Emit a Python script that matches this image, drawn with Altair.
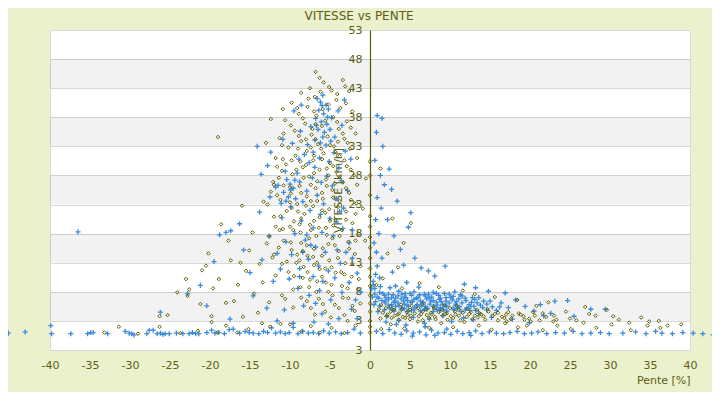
import altair as alt
import pandas as pd

# ---------------- data ----------------
# blue series (+ markers): (pente %, vitesse km/h)
blue_bottom = [(-45.2,0.9),(-43.1,1.1),(-39.9,2.2),(-39.8,0.8),(-37.4,0.8),(-35.3,0.8),(-34.9,1.0),(-34.6,1.0),
    (-32.8,0.8),(-30.6,1.2),(-30.1,0.9),(-29.8,0.8),(-29.5,0.6),(-27.9,0.8),(-27.6,1.4),(-27.1,1.4),(-26.6,0.8),
    (-26.2,0.9),(-25.9,0.7),(-25.6,0.8),(-25.1,0.8),(-24.2,0.9),(-23.4,0.8),(-22.6,0.8),(-22.2,1.0),(-21.8,0.8),
    (-21.4,0.8),(-20.4,1.0),(-19.8,1.4),(-19.4,0.9),(-18.9,1.0),(-18.2,0.8),(-17.6,1.5),(-17.1,1.6),(-16.3,0.9),
    (-15.6,1.2),(-15.1,1.0),(-14.6,0.9),(-13.9,0.8),(-13.3,1.2),(-12.8,1.0),(-12.3,1.8),(-11.8,0.9),(-11.2,1.1),
    (-10.6,0.8),(-10.1,1.0),(-9.6,1.9),(-9.0,0.8),(-8.4,1.2),(-7.7,0.9),(-7.1,1.0),(-6.4,0.8),(-5.8,1.3),(-5.1,0.9),
    (-4.3,1.1),(-3.6,0.8),(-2.8,1.0),(-2.0,1.6),(-1.2,0.9),
    (0.8,1.2),(1.6,0.8),(2.4,1.5),(3.1,0.9),(3.9,0.7),(4.6,1.3),(5.4,0.9),(6.2,1.1),(7.0,0.6),(7.7,1.4),(8.5,0.9),
    (9.3,1.0),(10.1,0.7),(10.9,1.2),(11.6,0.8),(12.4,1.0),(13.2,1.3),(14.0,0.8),(14.9,1.1),(15.8,0.9),(16.7,0.8),
    (17.5,1.0),(18.4,1.2),(19.3,0.8),(20.2,0.9),(21.0,1.1),(22.1,0.8),(23.2,1.0),(24.3,0.9),(25.4,1.2),(26.5,0.8),
    (27.6,0.9),(28.8,1.0),(29.9,0.8),(31.6,0.9),(33.2,1.1),(34.5,0.8),(35.7,1.2),(36.5,0.9),(37.8,0.8),(39.1,1.0),
    (40.4,0.9),(41.6,0.8),(42.9,0.6),(5.3,0.4),(8.1,0.5),(12.6,0.5),(9.6,1.6),(3.3,2.4),(6.9,2.0)]
blue_left = [(-26.2,4.5),(-22.8,7.7),(-21.2,9.1),(-19.5,13.2),(-18.8,17.8),(-18.0,18.2),(-17.4,18.5),(-16.3,19.7),
    (-15.8,15.2),(-15.0,11.3),(-14.6,7.3),(-13.5,13.5),(-12.9,5.2),(-12.1,9.8),(-11.6,14.6),(-13.8,21.7),
    (-12.6,17.6),(-17.5,3.3),(-20.4,5.6),(-36.5,18.3),(-14.1,33.0),(-13.6,28.2),(-12.5,24.3),(-11.5,26.3),(-11.0,20.7)]
blue_peak = [(-6.6,41.2),(-6.2,40.6),(-5.9,41.8),(-5.5,40.1),(-6.4,39.2),(-5.8,38.6),(-5.2,39.4),(-6.8,37.8),
    (-6.1,37.2),(-5.4,36.8),(-4.8,37.9),(-6.5,35.9),(-5.7,35.4),(-5.0,35.9),(-4.4,34.6),(-6.9,34.1),(-6.2,33.6),
    (-5.5,33.2),(-7.4,36.4),(-7.8,33.3),(-4.0,39.1),(-3.5,36.6),(-8.6,40.1),(-9.5,39.1),(-3.2,41.0),
    (-10.4,27.3),(-10.0,26.5),(-9.6,25.8),(-10.8,25.1),(-10.2,24.3),(-9.3,24.0),(-8.8,26.9),(-11.1,23.2),
    (-9.9,22.6),(-8.4,23.5),(-10.6,28.7),(-9.1,28.4),(-11.8,26.0),
    (-8.2,31.6),(-7.6,30.2),(-6.9,29.4),(-6.3,31.0),(-5.1,30.4),(-4.5,31.9),(-3.9,29.3),(-3.1,32.2),(-2.4,30.8),
    (-8.9,30.8),(-7.2,27.6),(-6.1,26.8),(-5.4,27.9),(-4.7,26.2),(-3.6,27.1),(-2.8,25.4),(-7.9,25.3),(-6.6,24.6),
    (-5.8,23.1),(-4.2,24.0),(-3.3,22.4),(-7.5,22.0),(-6.2,21.3),(-5.0,20.6),(-3.8,21.8),(-8.6,20.2),(-7.1,19.0),
    (-6.0,18.2),(-4.6,17.6),(-3.4,18.9),(-2.6,16.4),(-9.4,18.0),(-8.1,16.9),(-6.8,15.7),(-5.6,14.8),(-4.1,15.2),
    (-7.7,13.6),(-6.4,12.4),(-5.2,11.6),(-3.7,12.9),(-2.2,13.8),(-8.8,12.0),(-7.1,10.6),(-5.9,9.8),(-4.4,10.4),
    (-9.8,14.4),(-10.5,16.6),(-11.2,11.9),(-10.1,10.2),(-9.0,8.6),(-7.6,7.4),(-6.3,8.2),(-4.9,6.6),(-3.5,7.9),
    (-2.6,9.6),(-1.6,11.2),(-1.2,8.0),(-8.3,5.6),(-6.0,4.2),(-3.9,3.4),(-2.3,5.0),(-10.7,4.9),(-11.6,3.0),
    (-9.6,2.6),(-7.0,2.8),(-5.2,2.5),(-1.6,3.4),(-12.4,32.0),(-10.9,34.2),(-9.7,33.5),(-8.7,35.6),(-12.8,29.7),
    (-6.0,40.0),(-5.3,38.0),(-6.7,36.6),(-5.9,34.6),(-4.9,33.9),(-7.1,32.0),(-9.9,25.5),(-10.5,23.6),(-9.4,27.2),
    (-7.9,17.8),(-8.4,14.8),(-7.4,16.0),(-4.2,20.0),(-2.2,18.6),(-3.0,14.8),(-1.8,6.6),(-6.8,6.0),(-8.8,10.6)]
blue_axis = [(0.4,9.8),(0.7,11.0),(0.9,12.4),(1.2,10.4),(0.6,8.6),(1.5,13.8),(0.8,14.8),(0.5,16.4),(1.1,18.0),
    (0.7,20.4),(1.4,22.4),(0.9,24.2),(1.8,26.4),(1.3,28.0),(0.6,30.6),(1.6,33.0),(0.8,35.4),(1.5,37.8),(0.9,38.3),
    (2.4,29.1),(2.7,25.6),(3.4,23.6),(2.2,20.4),(4.8,19.1),(5.1,21.6),(3.0,17.6),(3.8,15.3),(5.6,13.8),(4.2,12.6),
    (6.4,12.1),(2.8,11.4),(7.3,11.6),(8.1,10.7),(9.4,12.4)]
blue_right = [(1.2,7.9),(2.3,7.6),(3.6,8.1),(4.4,7.7),(5.5,8.0),(6.8,7.6),(7.9,7.9),(9.3,7.7),(10.6,8.0),
    (0.9,7.1),(1.8,7.4),(2.7,7.0),(3.5,7.3),(4.3,7.1),(5.2,7.4),(6.0,7.0),(6.9,7.3),(7.7,7.1),(8.6,7.4),(9.5,7.0),
    (10.4,7.2),(11.5,7.3),(12.8,7.0),
    (1.5,6.5),(2.3,6.7),(3.1,6.4),(3.9,6.8),(4.7,6.5),(5.5,6.7),(6.3,6.4),(7.1,6.8),(7.9,6.5),(8.7,6.7),(9.5,6.4),
    (10.3,6.6),(11.1,6.8),(12.0,6.5),(13.1,6.7),(14.2,6.4),
    (1.9,6.1),(2.7,5.8),(3.5,6.1),(4.3,5.9),(5.1,6.2),(5.9,5.8),(6.7,6.1),(7.5,5.9),(8.3,6.2),(9.1,5.8),(9.9,6.1),
    (10.7,5.9),(11.5,6.1),(12.4,5.8),(13.4,6.1),(14.6,5.9),
    (2.4,5.3),(3.2,5.5),(4.0,5.2),(4.8,5.5),(5.6,5.3),(6.4,5.6),(7.2,5.2),(8.0,5.5),(8.8,5.3),(9.6,5.5),(10.4,5.2),
    (11.2,5.4),(12.1,5.2),(13.0,5.5),(14.1,5.3),(15.3,5.4),
    (3.0,4.7),(3.9,4.9),(4.7,4.6),(5.5,4.9),(6.3,4.7),(7.1,5.0),(7.9,4.6),(8.7,4.8),(9.6,4.7),(10.5,4.9),(11.4,4.6),
    (12.5,4.8),
    (0.5,5.8),(0.3,7.1),(1.0,4.6),(2.1,3.8),(3.6,3.1),(5.4,3.6),(7.4,3.3),(9.1,3.9),(11.7,3.5),(13.6,4.3),
    (15.8,4.8),(16.4,6.1),(17.3,5.3),(18.2,6.6),(19.4,5.5),(20.5,4.7),(21.3,5.8),(22.6,4.3),(23.1,6.4),(24.7,6.5),
    (25.5,3.8),(27.6,5.0),(29.4,5.0),(16.9,7.8),(14.8,8.1),(13.2,8.7),(11.8,9.3),(3.2,9.0),(4.6,9.6),(6.1,8.8),
    (2.0,2.8),(4.5,2.3),(6.8,2.6),(10.2,2.9),(12.9,3.2),(15.2,3.6),(17.8,3.3),(19.9,2.7),(21.7,3.9),
    (0.6,7.6),(1.6,7.7),(2.9,7.5),(4.0,7.6),(5.0,7.7),(6.2,7.5),(7.3,7.6),(8.3,7.7),(9.9,7.6),(11.3,7.5),
    (1.1,6.9),(2.0,7.0),(3.2,6.9),(4.5,7.0),(5.8,6.9),(7.4,7.0),(8.8,6.9),(10.1,7.0),(11.9,6.9),(13.6,7.0),
    (0.7,6.3),(1.9,6.4),(3.0,6.2),(4.2,6.4),(5.3,6.3),(6.6,6.2),(7.6,6.4),(8.9,6.3),(10.8,6.3),(12.7,6.2),(15.0,6.4),
    (1.2,5.6),(2.3,5.7),(3.6,5.6),(4.6,5.7),(5.9,5.6),(6.9,5.5),(8.4,5.7),(9.4,5.6),(10.9,5.6),(12.6,5.5),
    (13.8,5.7),(16.2,5.4),
    (1.8,4.9),(2.8,5.0),(4.3,5.1),(5.2,4.8),(6.8,5.0),(8.3,5.0),(9.2,4.9),(10.9,5.1),(11.9,4.9),(13.2,4.8),
    (14.6,4.9),(0.2,8.5),(0.4,9.2),(1.3,8.9),(2.5,8.7)]

# olive series (diamond markers)
olive_bottom = [(-33.2,1.0),(-31.4,2.0),(-29.0,0.8),(-26.3,2.0),(-23.7,0.9),(-21.5,1.3),(-19.8,2.8),(-19.1,1.0),
    (-18.0,2.2),(-16.6,1.0),(-15.2,1.6),(-13.5,2.6),(-12.5,2.0),(-11.2,2.5),(-10.0,2.4),(-8.6,1.2),(-7.4,2.1),
    (-6.3,1.0),(-4.8,1.8),(-3.2,0.9),(-1.8,2.2),(1.4,1.6),(2.6,2.4),(4.3,1.7),(6.0,2.9),(7.4,1.8),(8.9,2.6),
    (10.4,1.9),(11.8,2.8),(13.6,2.2),(15.2,1.5),(16.9,2.6),(18.5,1.9),(20.1,2.9),(21.6,1.4),(23.4,2.2),(25.1,1.6),
    (26.7,2.7),(28.3,1.8),(30.2,2.4),(32.6,1.4),(34.7,2.2),(36.3,1.8),(38.9,2.4)]
olive_left = [(-26.3,3.8),(-25.3,4.0),(-22.8,7.3),(-22.6,8.4),(-21.2,5.9),(-21.0,11.7),(-20.5,12.5),(-19.6,8.6),
    (-19.8,3.8),(-18.9,10.2),(-18.0,6.1),(-17.4,13.4),(-17.0,6.4),(-16.5,9.2),(-15.9,3.7),(-15.5,11.6),(-15.1,15.1),
    (-14.5,7.7),(-14.0,4.4),(-13.8,12.8),(-13.4,9.6),(-12.9,16.3),(-12.6,6.2),(-12.2,13.9),(-11.8,10.8),
    (-11.3,18.6),(-11.0,7.4),(-19.0,34.6),(-18.6,19.6),(-16.0,22.8),(-14.7,18.2),(-13.3,23.5),(-12.1,26.9),
    (-11.6,29.5),(-13.0,33.6),(-12.4,37.7),(-10.9,39.4),(-24.1,7.9),(-23.0,10.2),(-20.2,14.6),(-17.7,16.8),(-16.2,13.0)]
olive_peak = [(-6.8,45.8),(-6.3,44.8),(-5.8,44.0),(-3.4,44.4),(-3.1,43.3),(-7.5,43.0),(-8.6,42.2),(-4.8,42.6),
    (-2.6,42.5),(-6.9,41.5),(-4.2,41.0),(-9.8,40.5),(-7.8,39.8),(-5.2,40.2),(-3.7,39.6),(-2.2,39.0),(-8.9,38.6),
    (-6.7,38.3),(-4.6,38.0),(-2.9,37.3),(-10.6,37.5),(-8.1,36.9),(-6.0,36.5),(-3.9,36.0),(-1.8,35.2),(-9.4,35.7),
    (-7.3,35.0),(-5.3,34.7),(-3.2,34.3),(-11.3,34.4),(-8.6,33.9),(-6.5,33.4),(-4.5,33.0),(-2.5,32.6),(-10.2,32.8),
    (-7.9,32.2),(-5.8,31.8),(-3.8,31.3),(-1.6,31.0),(-9.3,31.4),(-11.8,31.0),(-7.1,30.6),(-5.0,30.1),(-2.9,29.6),
    (-10.5,29.9),(-8.4,29.4),(-6.3,29.0),(-4.2,28.6),(-2.0,28.0),(-9.7,28.2),(-11.4,27.6),(-7.6,27.8),(-5.5,27.3),
    (-3.4,26.8),(-10.8,26.3),(-8.8,26.2),(-6.8,25.8),(-4.7,25.5),(-2.6,25.0),(-12.4,25.2),(-9.9,24.9),(-7.9,24.4),
    (-5.9,24.0),(-3.8,23.6),(-1.7,23.2),(-11.2,23.8),(-9.1,23.1),(-7.1,22.7),(-5.1,22.2),(-3.0,21.8),(-10.4,21.9),
    (-8.2,21.4),(-6.3,20.8),(-4.3,20.4),(-2.2,19.8),(-12.0,20.9),(-9.5,20.1),(-7.5,19.5),(-5.5,19.0),(-3.5,18.6),
    (-1.4,18.0),(-10.9,18.8),(-8.7,18.2),(-6.7,17.6),(-4.7,17.2),(-2.7,16.6),(-12.6,17.5),(-9.9,16.5),(-7.9,16.0),
    (-5.9,15.5),(-3.9,15.0),(-1.9,14.5),(-11.4,15.6),(-9.1,14.4),(-7.1,14.0),(-5.1,13.4),(-3.1,12.9),(-1.2,12.4),
    (-10.4,13.2),(-8.3,12.3),(-6.3,11.9),(-4.3,11.3),(-2.3,10.6),(-9.5,10.7),(-7.5,10.1),(-5.5,9.6),(-3.5,9.0),
    (-1.5,8.4),(-8.7,8.8),(-6.7,8.0),(-4.7,7.4),(-2.7,6.9),(-7.9,6.4),(-5.9,5.9),(-3.9,5.2),(-1.9,4.7),(-9.6,5.3),
    (-6.9,4.1),(-4.9,3.6),(-2.8,3.0),
    (-7.2,36.0),(-5.6,37.4),(-6.1,32.6),(-8.0,34.2),(-4.0,33.8),(-7.0,31.4),(-5.4,29.2),(-6.6,27.0),(-8.3,27.6),
    (-4.4,26.6),(-6.0,25.0),(-7.4,23.6),(-5.6,21.6),(-8.8,19.6),(-6.4,19.0),(-4.6,19.4),(-7.6,17.2),(-5.2,16.2),
    (-8.4,15.0),(-6.6,13.0),(-4.8,12.2),(-7.8,11.4),(-6.0,10.6),(-3.2,11.0),(-9.2,13.0),(-10.0,19.2),(-9.0,21.8),
    (-10.0,23.4),(-8.0,29.8),(-9.8,30.6),
    (-7.7,41.2),(-5.1,43.2),(-4.1,42.0),(-6.2,42.4),(-3.0,40.4),(-9.1,39.6),(-7.0,39.0),(-5.9,39.4),(-4.1,37.2),
    (-2.4,36.2),(-9.9,36.6),(-8.4,37.8),(-6.8,36.8),(-3.4,35.2),(-10.8,35.2),(-8.9,34.8),(-6.8,34.2),(-5.0,33.2),
    (-2.8,33.6),(-11.0,33.2),(-9.0,32.6),(-7.4,32.8),(-4.3,32.0),(-3.2,30.6),(-10.9,30.8),(-8.7,30.4),(-6.0,30.8),
    (-4.6,29.6),(-2.4,29.0),(-11.0,28.8),(-9.2,29.0),(-7.0,28.4),(-5.2,28.0),(-3.8,27.8),(-1.6,26.4),(-12.0,26.4),
    (-10.0,26.0),(-7.4,26.4),(-5.4,26.2),(-3.0,25.8),(-11.6,24.6),(-8.6,25.0),(-6.6,23.6),(-4.6,24.2),(-2.4,23.8),
    (-12.8,23.0),(-9.8,22.4),(-8.0,22.8),(-6.0,22.0),(-4.0,22.6),(-1.8,21.4),(-11.2,21.0),(-8.6,20.6),(-7.0,20.2),
    (-5.0,20.2),(-3.0,20.4),(-11.8,19.2),(-9.6,18.6),(-7.4,18.6),(-5.4,17.8),(-3.8,17.6),(-1.8,16.8),(-10.8,16.8),
    (-8.6,16.4),(-7.0,15.4),(-4.4,16.0),(-2.6,15.4),(-12.0,14.4),(-9.8,15.2),(-7.8,14.2),(-6.0,14.2),(-4.0,13.8),
    (-2.2,12.8),(-11.0,12.8),(-8.8,13.4),(-7.0,12.6),(-5.6,12.0),(-3.6,11.4),(-1.4,10.2),(-10.2,11.4),(-8.4,10.4),
    (-6.6,9.8),(-4.8,9.2),(-2.8,8.6),(-9.6,8.4),(-7.6,8.8),(-5.2,8.0),(-3.4,7.0),(-8.6,7.0),(-6.4,6.8),(-4.4,5.8),
    (-2.2,5.6),(-10.6,6.8),(-7.4,5.2),(-5.6,4.6),(-3.2,4.0),(-1.2,6.0)]
olive_axis = [(0.0,1.0),(0.0,2.0),(0.0,3.0),(0.0,4.6),(0.0,6.0),(0.0,7.4),(0.0,9.0),(0.0,10.6),(0.0,12.0),
    (0.0,13.8),(0.0,15.6),(0.0,17.4),(0.0,19.2),(0.0,21.0),(0.0,24.6),(0.0,28.0),(0.0,30.4),
    (1.3,29.2),(2.8,20.6),(4.2,16.4),(5.1,19.8),(2.2,14.6),(3.5,12.2),(1.6,10.3),(0.8,9.2),(-0.6,16.8),
    (-0.9,22.3),(-0.5,27.5)]
olive_right = [(1.4,5.7),(2.6,5.5),(3.9,5.8),(5.2,5.6),(6.5,5.9),(7.9,5.5),(9.3,5.7),(10.8,5.6),
    (1.1,5.0),(2.0,5.2),(3.0,4.9),(4.0,5.1),(5.0,4.9),(6.0,5.2),(7.0,5.0),(8.0,5.1),(9.0,4.9),(10.0,5.2),(11.1,5.0),
    (12.2,5.1),(13.4,4.9),(14.7,5.0),
    (1.6,4.4),(2.6,4.6),(3.6,4.3),(4.6,4.5),(5.6,4.3),(6.6,4.6),(7.6,4.4),(8.6,4.5),(9.6,4.3),(10.6,4.6),(11.6,4.4),
    (12.6,4.5),(13.7,4.3),(14.8,4.6),(16.0,4.4),(17.3,4.5),(18.6,4.3),
    (2.1,3.8),(3.1,3.9),(4.1,3.7),(5.1,3.9),(6.1,3.8),(7.1,4.0),(8.1,3.7),(9.1,3.9),(10.1,3.8),(11.1,3.9),(12.1,3.7),
    (13.1,3.9),(14.2,3.8),(15.3,3.9),(16.5,3.7),(17.8,3.9),(19.2,3.8),(20.6,3.9),(22.0,3.7),
    (3.6,3.2),(5.0,3.3),(6.6,3.1),(8.2,3.3),(9.7,3.2),(11.3,3.1),(12.8,3.3),(14.4,3.2),(16.0,3.1),(17.6,3.3),
    (19.3,3.2),(21.2,3.1),(23.3,3.2),
    (24.5,4.6),(25.8,3.1),(26.9,5.4),(28.2,3.9),(29.6,4.9),(31.1,3.2),(32.4,2.7),(33.9,3.6),(36.1,3.0),(37.2,2.2),
    (20.8,5.6),(22.3,6.2),(18.4,6.6),(15.6,7.1),(13.1,7.6),(11.6,8.2),(8.6,8.8),(6.2,9.5),(4.0,8.6),(17.1,2.9),
    (19.6,2.2),(22.9,2.9),
    (2.2,4.1),(3.5,4.1),(4.7,4.0),(6.4,4.2),(7.7,4.1),(9.4,4.2),(10.7,4.1),(12.4,4.2),(13.9,4.1),(15.6,4.2),
    (17.0,4.1),(18.8,4.1),(20.4,4.5),(21.6,4.3),(1.3,3.4),(2.7,3.5),(4.4,3.5),(7.4,3.5),(10.4,3.5),(13.5,3.6),
    (16.8,3.5),(19.9,3.4),(23.0,3.9),(25.0,3.4),(27.4,4.2),(30.4,3.8),(34.9,2.9)]

# axis / band values
y_ticks = [-2, 3, 8, 13, 18, 23, 28, 33, 38, 43, 48, 53]
x_ticks = list(range(-40, 45, 5))
band_lo = [43, 33, 23, 13, 3]
band_hi = [48, 38, 28, 18, 8]

# ---------------- build tables ----------------
def frame(*groups):
    rows = [p for g in groups for p in g]
    return pd.DataFrame(rows, columns=["pente", "vitesse"])

blue_df = frame(blue_bottom, blue_left, blue_peak, blue_axis, blue_right)
olive_df = frame(olive_bottom, olive_left, olive_peak, olive_axis, olive_right)
band_df = pd.DataFrame({"vitesse": band_lo, "vitesse2": band_hi})

TXT = "#5E5E14"
FONT = "DejaVu Sans"

xscale = alt.Scale(domain=[-40, 40], nice=False, zero=False)
yscale = alt.Scale(domain=[-2, 53], nice=False, zero=False)

xaxis = alt.Axis(values=x_ticks, title="Pente [%]", titleAnchor="end", titleFont=FONT,
                 titleFontSize=11, titleFontWeight="normal", titleColor=TXT, titlePadding=4,
                 labelFont=FONT, labelFontSize=11, labelColor=TXT, labelPadding=9,
                 labelExpr="'' + datum.value", labelFlush=False, labelOverlap=False,
                 domain=False, ticks=False, grid=False)
yaxis = alt.Axis(values=y_ticks, title="VITESSE [km/h]", offset=-320,
                 titleFont=FONT, titleFontSize=11, titleFontWeight="normal", titleColor=TXT,
                 titleX=-27, titleY=160, titleAngle=-90, titleBaseline="bottom", titleAlign="center",
                 labelFont=FONT, labelFontSize=11, labelColor=TXT, labelPadding=8,
                 labelExpr="datum.value < 0 ? '3' : '' + datum.value", labelOverlap=False,
                 domain=True, domainColor="#5A5A00", domainWidth=1.2, ticks=False,
                 grid=True, gridColor="#D9D9D9", gridWidth=1)

bands = alt.Chart(band_df).mark_rect(fill="black", opacity=0.05).encode(
    x=alt.value(0), x2=alt.value(640),
    y=alt.Y("vitesse:Q", scale=yscale, axis=yaxis),
    y2="vitesse2:Q",
)

blue = alt.Chart(blue_df).mark_point(
    shape="M-1,0H1M0,-1V1", size=26, filled=False, stroke="#3A8BDC", strokeWidth=1.3, opacity=1
).encode(
    x=alt.X("pente:Q", scale=xscale, axis=xaxis),
    y=alt.Y("vitesse:Q", scale=yscale, axis=yaxis),
)

olive = alt.Chart(olive_df).mark_point(
    shape="diamond", size=13, filled=False, stroke="#606000", strokeWidth=1, opacity=1
).encode(
    x=alt.X("pente:Q", scale=xscale, axis=xaxis),
    y=alt.Y("vitesse:Q", scale=yscale, axis=yaxis),
)

chart = alt.layer(bands, blue, olive).properties(
    width=640, height=320,
    title=alt.TitleParams("VITESSE vs PENTE", font=FONT, fontSize=12, fontWeight="normal",
                          color=TXT, anchor="middle", dx=-11, offset=1),
    background="#EBF0CD",
    padding={"left": 42, "top": 22, "right": 22, "bottom": 42},
    autosize=alt.AutoSizeParams(type="none"),
).configure_view(stroke="#D9D9D9", fill="white", strokeWidth=1)

chart.save("out.html", embed_options={"renderer": "svg", "actions": False})
